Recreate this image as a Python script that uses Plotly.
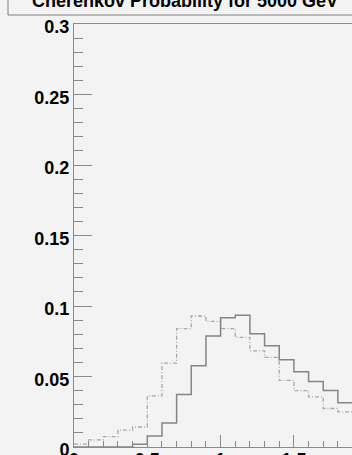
import plotly.graph_objects as go

# bin edges (width 0.1)
bin_edges = [round(0.1 * i, 1) for i in range(20)]  # 0.0 .. 1.9
dashed_vals = [0.0021, 0.0050, 0.0073, 0.0120, 0.0142, 0.0363, 0.0595, 0.0839, 0.0929,
               0.0891, 0.0839, 0.0777, 0.0682, 0.0635, 0.0472, 0.0400, 0.0355, 0.0273, 0.0249]
solid_vals = [0.0, 0.0, 0.0, 0.0, 0.0019, 0.0078, 0.0171, 0.0372, 0.0576,
              0.0787, 0.0917, 0.0934, 0.0803, 0.0718, 0.0618, 0.0533, 0.0464, 0.0400, 0.0313]
title_text = "Cherenkov Probability for 5000 GeV"

W, H = 352, 455
L, T, B = 74, 24, 8
plot_w = W - L
plot_h = H - T - B
px_per_unit = 146.6
xmax = plot_w / px_per_unit

def steps(vals):
    return bin_edges[:len(vals) + 1], list(vals) + [vals[-1]]

fig = go.Figure()
xd, yd = steps(dashed_vals)
fig.add_trace(go.Scatter(x=xd, y=yd, mode="lines", line_shape="hv",
                         line=dict(color="#a8a8a8", width=1.3, dash="4px,2px,1px,2px"),
                         showlegend=False, hoverinfo="skip"))
xs, ys = steps(solid_vals)
fig.add_trace(go.Scatter(x=xs, y=ys, mode="lines", line_shape="hv",
                         line=dict(color="#858585", width=1.5),
                         showlegend=False, hoverinfo="skip"))

axis_col = "#8a8a8a"
fig.update_xaxes(range=[0, xmax], showgrid=False, zeroline=False,
                 showline=True, linecolor=axis_col, linewidth=1, mirror=True,
                 ticks="inside", ticklen=12, tickcolor=axis_col, tickwidth=1,
                 tick0=0, dtick=0.5,
                 minor=dict(ticks="inside", ticklen=6, dtick=0.1, tickcolor=axis_col, tickwidth=1, showgrid=False),
                 tickfont=dict(family="Liberation Sans", size=18, color="black", weight="bold"),
                 ticklabeloverflow="allow", ticklabelstandoff=-4,
                 fixedrange=True)
fig.update_yaxes(range=[0, 0.3], showgrid=False, zeroline=False,
                 showline=True, linecolor=axis_col, linewidth=1, mirror=False,
                 ticks="inside", ticklen=18, tickcolor=axis_col, tickwidth=1,
                 tick0=0, dtick=0.05,
                 minor=dict(ticks="inside", ticklen=9, dtick=0.01, tickcolor=axis_col, tickwidth=1, showgrid=False),
                 tickfont=dict(family="Liberation Sans", size=18, color="black", weight="bold"),
                 ticklabelshift=3, ticklabeloverflow="allow",
                 fixedrange=True)

# title box
fig.add_shape(type="rect", xref="paper", yref="paper",
              x0=(8 - L) / plot_w, x1=1.5, y0=(H - B - 15) / plot_h, y1=1.3,
              line=dict(color="#808080", width=1), fillcolor="rgba(0,0,0,0)", layer="above")
fig.add_annotation(text="<b>" + title_text + "</b>", xref="paper", yref="paper",
                   x=(30 - L) / plot_w, xanchor="left",
                   y=(H - B - 1) / plot_h, yanchor="middle",
                   showarrow=False,
                   font=dict(family="Liberation Sans", size=18, color="black"))

fig.update_layout(width=W, height=H, margin=dict(l=L, r=0, t=T, b=B, autoexpand=False),
                  paper_bgcolor="#f3f3f3", plot_bgcolor="#f3f3f3")

fig.write_html("out.html",
               config={"displayModeBar": False, "staticPlot": True},
               post_script="document.body.style.margin='0';document.body.style.background='#f3f3f3';")
